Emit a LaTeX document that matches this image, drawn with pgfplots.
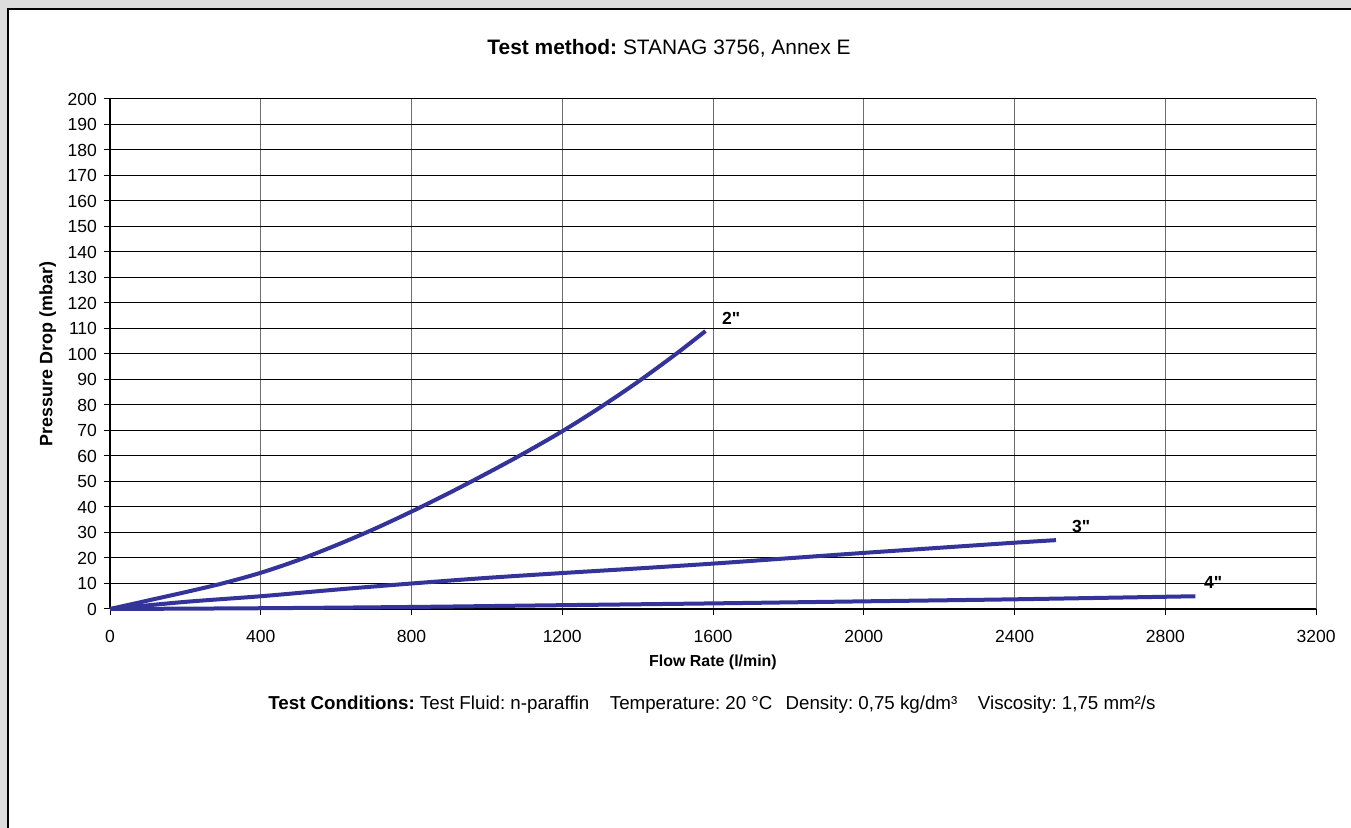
\documentclass[border=0pt]{standalone}
\usepackage{pgfplots}
\pgfplotsset{compat=1.18}
\usepackage{fontspec}
\setmainfont{Liberation Sans}[Ligatures=TeXOff]
\frenchspacing
\definecolor{bgray}{RGB}{220,220,220}
\definecolor{curve}{RGB}{51,51,153}
\definecolor{vgrid}{RGB}{110,110,110}
\begin{document}
\begin{tikzpicture}
\fill[bgray] (0,0) rectangle (675.5bp,414bp);
\fill[white] (4bp,0) rectangle (675.5bp,409.5bp);
\draw[black,line width=1bp] (4bp,0) -- (4bp,409.5bp) -- (675.5bp,409.5bp);
\begin{axis}[
  at={(55bp,109.5bp)}, anchor=south west,
  scale only axis, width=603bp, height=255bp,
  xmin=0, xmax=3200, ymin=0, ymax=200,
  xtick={0,400,...,3200}, ytick={0,10,...,200},
  axis lines=left, axis line style={-, black, line width=0.6bp},
  tick align=outside, major tick length=3bp,
  tick style={black, line width=0.5bp},
  xmajorgrids, ymajorgrids,
  x grid style={vgrid, line width=0.5bp},
  y grid style={black, line width=0.5bp},
  /pgf/number format/assume math mode=true,
  /pgf/number format/set thousands separator={},
  tick label style={font=\fontsize{8.8}{10}\selectfont},
  xticklabel style={yshift=-4bp},
  xlabel={\textbf{Flow Rate (l/min)}},
  ylabel={\textbf{Pressure Drop (mbar)}},
  xlabel style={font=\fontsize{8}{10}\selectfont, yshift=0.5bp},
  ylabel style={font=\fontsize{9}{10}\selectfont, yshift=-1bp},
  clip=false,
]
\addplot[curve, line width=2bp, smooth] coordinates {
 (0,0) (100,3.3) (200,6.6) (300,10.1) (400,14.2) (500,19.2) (600,25)
 (700,31.3) (800,38.2) (900,45.5) (1000,53.2) (1100,61.2) (1200,69.7)
 (1300,79) (1400,89) (1500,99.8) (1580,109)};
\addplot[curve, line width=2bp, smooth] coordinates {
 (0,0) (200,2.8) (400,5) (600,7.6) (800,10) (1000,12.2) (1200,14.1)
 (1400,15.9) (1600,17.8) (1800,19.9) (2000,22) (2200,24) (2400,26) (2510,27)};
\addplot[curve, line width=2bp, smooth] coordinates {
 (0,0) (400,0.3) (800,0.8) (1200,1.5) (1600,2.2) (2000,3) (2400,3.8) (2880,5)};
\node[font=\bfseries\fontsize{8.8}{10}\selectfont] at (axis cs:1648,114) {2"};
\node[font=\bfseries\fontsize{8.8}{10}\selectfont] at (axis cs:2577,32.5) {3"};
\node[font=\bfseries\fontsize{8.8}{10}\selectfont] at (axis cs:2927,10.5) {4"};
\end{axis}
\node[font=\fontsize{10.5}{12}\selectfont] at (334.5bp,390bp) {\textbf{Test method:} STANAG 3756, Annex E};
\node[font=\fontsize{9.4}{11}\selectfont] at (356bp,61.5bp) {\textbf{Test Conditions:} Test Fluid: n-paraffin\hspace{1.1em}Temperature: 20 °C\hspace{0.7em}Density: 0,75 kg/dm³\hspace{1.1em}Viscosity: 1,75 mm²/s};
\pgfresetboundingbox
\path[use as bounding box] (0,0) rectangle (675.5bp,414bp);
\end{tikzpicture}
\end{document}
